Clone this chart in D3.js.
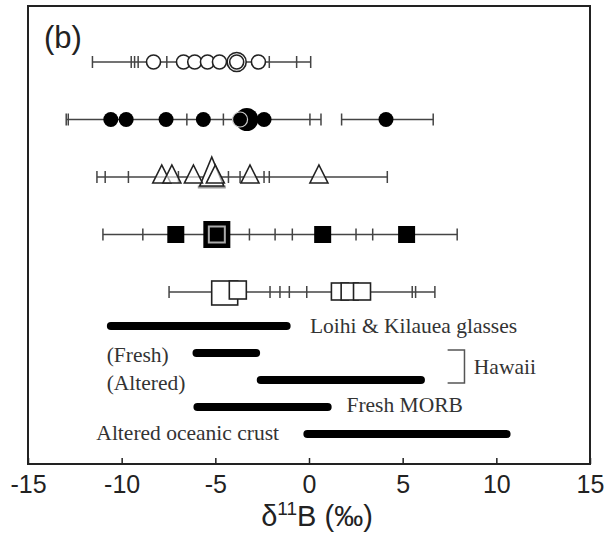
<!DOCTYPE html>
<html>
<head>
<meta charset="utf-8">
<script src="https://cdn.jsdelivr.net/npm/d3@7"></script>
<style>
  body { margin: 0; background: #fff; }
  svg { display: block; }
</style>
</head>
<body>
<div id="chart"></div>
<script>
// sample rows, top to bottom
var rows = ["openCircle", "filledCircle", "openTriangle", "filledSquare", "openSquare"];

// whisker segments per row [from, to]
var rowSegments = [
  [[-11.56, 0.09]],
  [[-12.96, 0.64], [1.74, 6.63]],
  [[-11.32, 4.18]],
  [[-11.0, 7.91]],
  [[-7.47, 6.72]]
];

// error bar end marks per row
var rowTicks = [
  [-11.56, -9.49, -9.31, -9.12, -7.59, -2.12, -0.66, 0.09],
  [-12.96, -12.85, -6.52, -4.57, 0.05, 0.64, 1.74, 6.63],
  [-11.32, -10.88, -9.64, -6.97, -4.30, -3.68, -2.40, -2.12, 4.18],
  [-11.0, -8.87, -3.18, -1.81, -0.89, 2.51, 3.40, 7.91],
  [-7.47, -2.08, -1.55, -1.05, -0.12, 5.51, 5.69, 6.72]
];

// individual values per row
var rowValues = [
  [-8.30, -6.70, -6.10, -5.42, -4.78, -2.70],
  [-10.58, -9.76, -7.63, -5.64, -2.40, 4.11],
  [-7.86, -7.32, -6.17, -5.0, -3.15, 0.53],
  [-7.11, 0.73, 5.21],
  [1.65, 2.17, 2.83]
];

// mean values (large symbols) per row
var rowMeans = [-3.86, -3.32, -5.19, -4.92, -4.5];
var rowMeans2 = [null, -3.68, null, null, -3.8];

// reference ranges
var rangeNames = ["Loihi & Kilauea glasses", "(Fresh)", "(Altered)", "Fresh MORB", "Altered oceanic crust"];
var rangeLow = [-10.79, -6.22, -2.79, -6.17, -0.30];
var rangeHigh = [-0.98, -2.61, 6.19, 1.21, 10.76];

var xTicks = [-15, -10, -5, 0, 5, 10, 15];

var width = 612, height = 540;
var ink = "#222", whisk = "#444";

var svg = d3.select("#chart").append("svg")
  .attr("width", width)
  .attr("height", height);

var x = d3.scaleLinear().domain([-15, 15]).range([28, 590]);
var yRow = d3.scalePoint().domain(rows).range([62, 292]);
var yRange = d3.scalePoint().domain(rangeNames).range([326, 434]);

// frame
svg.append("rect")
  .attr("x", x(-15)).attr("y", 6)
  .attr("width", x(15) - x(-15)).attr("height", 458)
  .attr("fill", "none").attr("stroke", ink).attr("stroke-width", 2);

// axis
var axis = svg.append("g")
  .attr("transform", "translate(0,464)")
  .call(d3.axisBottom(x).tickValues(xTicks).tickSizeInner(-6).tickSizeOuter(0)
    .tickPadding(11).tickFormat(function (d) { return String(d); }));
axis.select(".domain").remove();
axis.selectAll(".tick line").attr("stroke", ink).attr("stroke-width", 1.5);
axis.selectAll(".tick text")
  .attr("font-family", "Liberation Sans, Arial, sans-serif")
  .attr("font-size", 25).attr("fill", ink);

// axis title
var title = svg.append("text")
  .attr("x", 317).attr("y", 526)
  .attr("text-anchor", "middle")
  .attr("font-family", "Liberation Sans, Arial, sans-serif")
  .attr("font-size", 29).attr("fill", ink);
title.append("tspan").text("δ");
title.append("tspan").attr("font-size", 19).attr("dy", -11).text("11");
title.append("tspan").attr("dy", 11).text("B (‰)");

// panel label
svg.append("text")
  .attr("x", 44).attr("y", 48)
  .attr("font-family", "Liberation Sans, Arial, sans-serif")
  .attr("font-size", 31).attr("fill", ink)
  .text("(b)");

// whiskers
rows.forEach(function (r, i) {
  var g = svg.append("g").attr("transform", "translate(0," + yRow(r) + ")");
  g.selectAll("line.seg").data(rowSegments[i]).enter().append("line")
    .attr("class", "seg")
    .attr("x1", function (d) { return x(d[0]); })
    .attr("x2", function (d) { return x(d[1]); })
    .attr("stroke", whisk).attr("stroke-width", 1.5);
  g.selectAll("line.tk").data(rowTicks[i]).enter().append("line")
    .attr("class", "tk")
    .attr("x1", function (d) { return x(d); })
    .attr("x2", function (d) { return x(d); })
    .attr("y1", -6).attr("y2", 6)
    .attr("stroke", whisk).attr("stroke-width", 1.5);
});

function rowG(i) {
  return svg.append("g").attr("transform", "translate(0," + yRow(rows[i]) + ")");
}

// row 1: open circles
var g1 = rowG(0);
g1.selectAll("circle").data(rowValues[0]).enter().append("circle")
  .attr("cx", function (d) { return x(d); }).attr("r", 7)
  .attr("fill", "#fff").attr("stroke", ink).attr("stroke-width", 1.6);
g1.append("circle").attr("cx", x(rowMeans[0])).attr("r", 9.5)
  .attr("fill", "#fff").attr("stroke", ink).attr("stroke-width", 1.6);
g1.append("circle").attr("cx", x(rowMeans[0])).attr("r", 7)
  .attr("fill", "#fff").attr("stroke", ink).attr("stroke-width", 1.6);

// row 2: filled circles
var g2 = rowG(1);
g2.selectAll("circle").data(rowValues[1]).enter().append("circle")
  .attr("cx", function (d) { return x(d); }).attr("r", 7.5)
  .attr("fill", "#000");
g2.append("circle").attr("cx", x(rowMeans[1])).attr("r", 11.5).attr("fill", "#000");
g2.append("circle").attr("cx", x(rowMeans2[1])).attr("r", 7.5)
  .attr("fill", "#000").attr("stroke", "#ccc").attr("stroke-width", 1.2);

// row 3: open triangles
var g3 = rowG(2);
var tri = "M-9,6L9,6L0,-12Z";
g3.append("line").attr("x1", x(rowMeans[2]) - 14).attr("x2", x(rowMeans[2]) + 14)
  .attr("y1", 10).attr("y2", 10).attr("stroke", "#999").attr("stroke-width", 3);
g3.append("path").attr("d", "M-12,9L12,9L0,-20Z")
  .attr("transform", "translate(" + x(rowMeans[2]) + ",0)")
  .attr("fill", "#fff").attr("stroke", ink).attr("stroke-width", 1.6);
g3.selectAll("path.t").data(rowValues[2]).enter().append("path")
  .attr("class", "t").attr("d", tri)
  .attr("transform", function (d) { return "translate(" + x(d) + ",0)"; })
  .attr("fill", "#fff").attr("fill-opacity", 0.6).attr("stroke", ink).attr("stroke-width", 1.6);

// row 4: filled squares
var g4 = rowG(3);
g4.selectAll("rect").data(rowValues[3]).enter().append("rect")
  .attr("x", function (d) { return x(d) - 8.5; }).attr("y", -8.5)
  .attr("width", 17).attr("height", 17).attr("fill", "#000");
g4.append("rect").attr("x", x(rowMeans[3]) - 13.5).attr("y", -13.5)
  .attr("width", 27).attr("height", 27).attr("fill", "#000");
g4.append("rect").attr("x", x(rowMeans[3]) - 8).attr("y", -8)
  .attr("width", 16).attr("height", 16).attr("fill", "#000")
  .attr("stroke", "#aaa").attr("stroke-width", 2);

// row 5: open squares
var g5 = rowG(4);
g5.append("rect").attr("x", x(rowMeans[4]) - 13).attr("y", -11)
  .attr("width", 26).attr("height", 24)
  .attr("fill", "#fff").attr("stroke", ink).attr("stroke-width", 1.6);
g5.append("rect").attr("x", x(rowMeans2[4]) - 8.5).attr("y", -11)
  .attr("width", 17).attr("height", 18)
  .attr("fill", "#fff").attr("stroke", ink).attr("stroke-width", 1.6);
g5.selectAll("rect.s").data(rowValues[4]).enter().append("rect")
  .attr("class", "s")
  .attr("x", function (d) { return x(d) - 8.5; }).attr("y", -9)
  .attr("width", 17).attr("height", 17)
  .attr("fill", "#fff").attr("stroke", ink).attr("stroke-width", 1.6);

// reference range bars
svg.selectAll("rect.range").data(rangeNames).enter().append("rect")
  .attr("class", "range")
  .attr("x", function (d, i) { return x(rangeLow[i]); })
  .attr("y", function (d) { return yRange(d) - 4; })
  .attr("width", function (d, i) { return x(rangeHigh[i]) - x(rangeLow[i]); })
  .attr("height", 8).attr("rx", 4)
  .attr("fill", "#000");

// range labels
var labelAt = [
  { x: 0.05, anchor: "start", dy: 7 },
  { x: -10.8, anchor: "start", dy: 9 },
  { x: -10.8, anchor: "start", dy: 10 },
  { x: 2.0, anchor: "start", dy: 5 },
  { x: -1.6, anchor: "end", dy: 6 }
];
svg.selectAll("text.range").data(rangeNames).enter().append("text")
  .attr("class", "range")
  .attr("x", function (d, i) { return x(labelAt[i].x); })
  .attr("y", function (d, i) { return yRange(d) + labelAt[i].dy; })
  .attr("text-anchor", function (d, i) { return labelAt[i].anchor; })
  .attr("font-family", "Liberation Serif, Times New Roman, serif")
  .attr("font-size", 21.5).attr("fill", "#333")
  .text(function (d) { return d; });

// Hawaii bracket
var yb1 = yRange(rangeNames[1]) - 3, yb2 = yRange(rangeNames[2]) + 3;
svg.append("path")
  .attr("d", "M" + x(7.4) + "," + yb1 + "H" + x(8.3) + "V" + yb2 + "H" + x(7.4))
  .attr("fill", "none").attr("stroke", "#555").attr("stroke-width", 1.5);
svg.append("text")
  .attr("x", x(8.8)).attr("y", (yb1 + yb2) / 2 + 7)
  .attr("font-family", "Liberation Serif, Times New Roman, serif")
  .attr("font-size", 21.5).attr("fill", "#333")
  .text("Hawaii");
</script>
</body>
</html>
